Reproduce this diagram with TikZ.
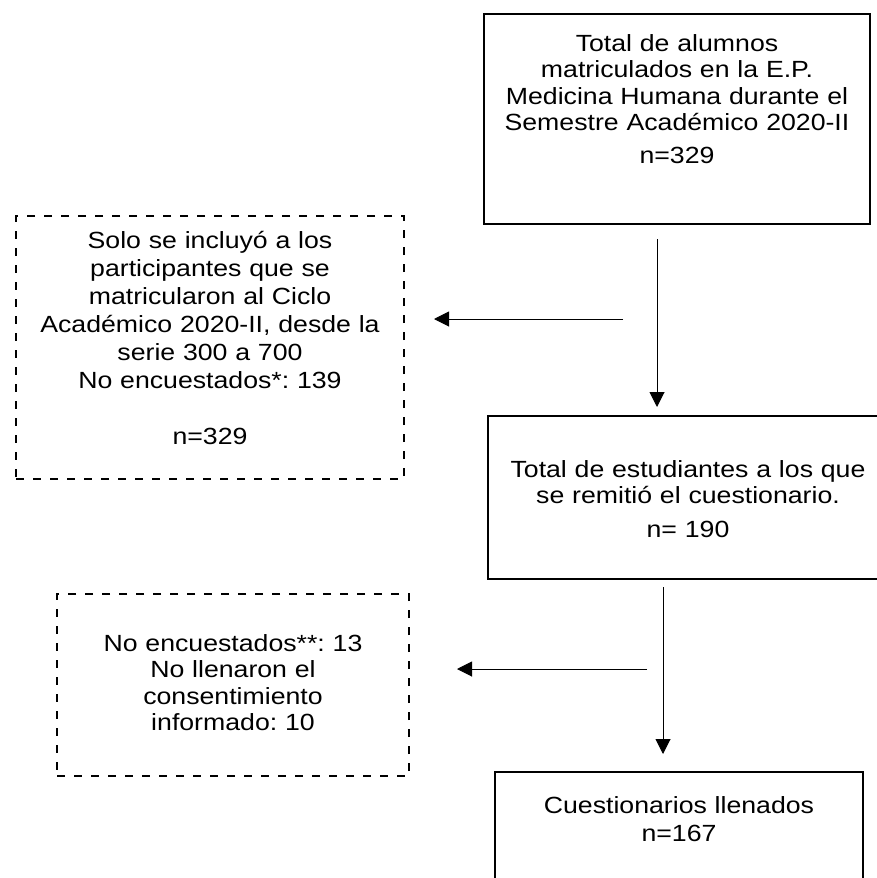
\documentclass[tikz,border=0pt]{standalone}
\usepackage{fontspec}
\setmainfont{Liberation Sans}[FakeStretch=1.14]
\frenchspacing
\usetikzlibrary{arrows.meta,positioning}
\tikzset{
  box/.style={rectangle, draw=black, line width=2pt, anchor=north west, inner sep=0pt, align=center, font=\fontsize{23.4}{26.5}\selectfont},
  dashbox/.style={box, dash pattern=on 8pt off 9pt},
  connect/.style={-{Triangle[length=15pt,width=15pt]}, line width=1pt}
}

\begin{document}
\begin{tikzpicture}[x=1pt,y=-1pt]
  \useasboundingbox (0,0) rectangle (877,878);

  \node[box, text width=386pt, text height=37pt, text depth=173pt] (B1) at (483,13)
    {Total de alumnos\\ matriculados en la E.P.\\ Medicina Humana durante el\\ Semestre Académico 2020-II\\[6pt] n=329};
  \node[dashbox, text width=388pt, text height=32pt, text depth=231pt, font=\fontsize{23.4}{28}\selectfont] (D1) at (15,215)
    {Solo se incluyó a los\\ participantes que se\\ matricularon al Ciclo\\ Académico 2020-II, desde la\\ serie 300 a 700\\ No encuestados*: 139\\[28pt] n=329};
  \node[box, text width=400pt, text height=61pt, text depth=102pt] (B2) at (487,415)
    {Total de estudiantes a los que\\ se remitió el cuestionario.\\[7pt] n= 190};
  \node[dashbox, text width=352pt, text height=57pt, text depth=125pt] (D2) at (56,593)
    {No encuestados**: 13\\ No llenaron el\\ consentimiento\\ informado: 10};
  \node[box, text width=368pt, text height=41pt, text depth=88pt] (B3) at (494,771)
    {Cuestionarios llenados\\[2pt] n=167};

  % branch points
  \coordinate (J1) at (657,319);
  \coordinate (J2) at (663,669);

  \draw[connect, shorten <=14pt, shorten >=8pt] (J1 |- B1.south) -- (J1 |- B2.north);
  \draw[connect, shorten >=29pt] ([xshift=-34pt]J1) -- (D1.east |- J1);
  \draw[connect, shorten <=7pt, shorten >=17pt] (J2 |- B2.south) -- (J2 |- B3.north);
  \draw[connect, shorten >=47pt] ([xshift=-16pt]J2) -- (D2.east |- J2);
\end{tikzpicture}
\end{document}
